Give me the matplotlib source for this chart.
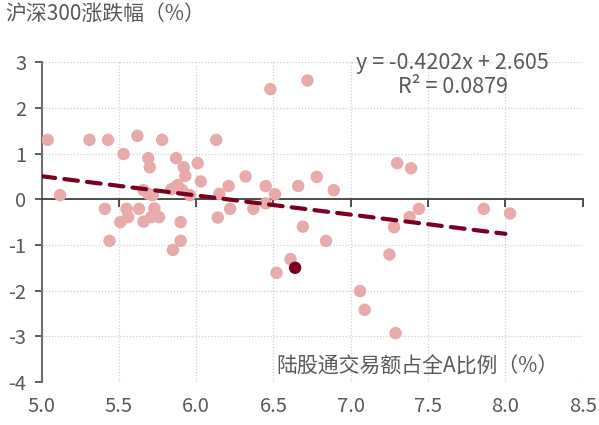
import matplotlib.pyplot as plt
import numpy as np

plt.rcParams["font.family"] = ["Noto Sans CJK SC", "DejaVu Sans"]

# 陆股通交易额占全A比例 (%) vs 沪深300涨跌幅 (%)
share_pct = [
    5.04, 5.12, 5.31, 5.43, 5.41, 5.44, 5.53, 5.51, 5.55, 5.56,
    5.62, 5.63, 5.66, 5.66, 5.69, 5.70, 5.69, 5.72, 5.73, 5.71,
    5.76, 5.78, 5.85, 5.87, 5.84, 5.88, 5.91, 5.90, 5.90, 5.92,
    5.93, 5.96, 6.01, 6.03, 6.13, 6.14, 6.15, 6.21, 6.22, 6.32,
    6.37, 6.45, 6.45, 6.51, 6.48, 6.72, 6.66, 6.78, 6.89, 6.69,
    6.84, 6.61, 6.52, 7.25, 7.06, 7.09, 7.29, 7.30, 7.39, 7.44,
    7.38, 7.28, 7.86, 8.03,
]
hs300_chg = [
    1.30, 0.09, 1.30, 1.30, -0.21, -0.91, 0.99, -0.50, -0.21, -0.39,
    1.39, -0.21, -0.49, 0.20, 0.90, 0.70, 0.12, 0.09, -0.20, -0.39,
    -0.39, 1.30, -1.11, 0.90, 0.22, 0.31, 0.20, -0.50, -0.91, 0.70,
    0.51, 0.09, 0.79, 0.39, 1.30, -0.40, 0.12, 0.29, -0.21, 0.50,
    -0.21, 0.29, -0.09, 0.11, 2.41, 2.60, 0.29, 0.49, 0.20, -0.60,
    -0.91, -1.31, -1.61, -1.21, -2.01, -2.42, -2.93, 0.79, 0.68, -0.21,
    -0.39, -0.61, -0.21, -0.31,
]
latest_x = [6.64]
latest_y = [-1.50]

slope = -0.4202
intercept = 2.605
r2 = 0.0879
trend_x = [5.0, 8.0]

x_ticks = [5.0, 5.5, 6.0, 6.5, 7.0, 7.5, 8.0, 8.5]
y_ticks = [-4, -3, -2, -1, 0, 1, 2, 3]

pink = "#E8AAAA"
dark_red = "#7A0021"
text_grey = "#595959"
axis_grey = "#404040"

fig = plt.figure(figsize=(5.99, 4.25), dpi=100)
ax = fig.add_axes([0.0693, 0.1012, 0.9035, 0.7524])

ax.scatter(share_pct, hs300_chg, s=80, color=pink, edgecolors="none", zorder=3)
ax.scatter(latest_x, latest_y, s=80, color=dark_red, edgecolors="none", zorder=4)

tx = np.array(trend_x)
ax.plot(tx, slope * tx + intercept, color=dark_red, lw=3.0,
        dashes=(3.3, 2.2), dash_capstyle="round", zorder=5)

ax.set_xlim(5.0, 8.5)
ax.set_ylim(-4, 3)
ax.set_xticks(x_ticks)
ax.set_yticks(y_ticks)

ax.grid(True, color="#D0D0D0", linestyle=(0, (1, 1.5)), linewidth=0.9)
ax.set_axisbelow(True)

for side in ["top", "right"]:
    ax.spines[side].set_visible(False)
ax.spines["left"].set_color("#707070")
ax.spines["left"].set_linewidth(1.5)
ax.spines["bottom"].set_position(("data", 0))
ax.spines["bottom"].set_color(axis_grey)
ax.spines["bottom"].set_linewidth(1.3)

ax.tick_params(axis="x", direction="out", length=6, width=1.3, color=axis_grey,
               labelbottom=False)
ax.tick_params(axis="y", direction="out", length=5, width=1.2, color=axis_grey,
               labelsize=14.5, labelcolor=text_grey, pad=6)
ax.set_yticklabels([str(v) for v in y_ticks])

# x labels sit at the bottom edge, not on the zero line
sec = ax.secondary_xaxis("bottom")
sec.set_xticks(x_ticks)
sec.set_xticklabels([f"{v:.1f}" for v in x_ticks])
sec.tick_params(length=0, labelsize=14.5, labelcolor=text_grey, pad=10)
sec.spines["bottom"].set_visible(False)

fig.text(0.008, 0.965, "沪深300涨跌幅（%）", fontsize=15, color=text_grey,
         ha="left", va="center")
ax.text(0.955, 0.015, "陆股通交易额占全A比例（%）", transform=ax.transAxes,
        fontsize=15, color=text_grey, ha="right", va="bottom")

ax.text(7.66, 2.98, f"y = {slope}x + {intercept}", fontsize=15.5,
        color=text_grey, ha="center", va="center")
ax.text(7.66, 2.46, f"R² = {r2}", fontsize=15.5,
        color=text_grey, ha="center", va="center")

fig.savefig("out.png", dpi=100)
